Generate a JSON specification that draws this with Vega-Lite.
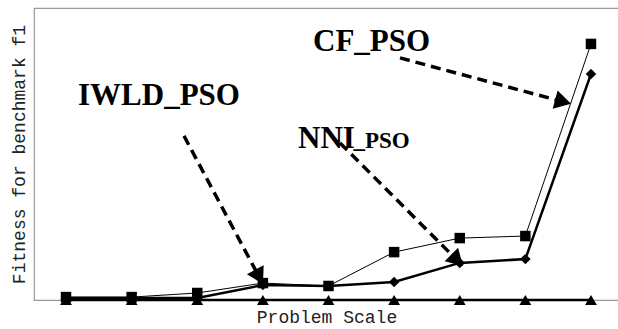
{
  "$schema": "https://vega.github.io/schema/vega-lite/v6.json",
  "autosize": "none",
  "width": 585,
  "height": 292,
  "padding": {"left": 34, "top": 8, "right": 0, "bottom": 29},
  "background": "white",
  "config": {
    "view": {"stroke": "#9a9a9a", "strokeWidth": 1.2},
    "axis": {"domain": false, "ticks": false, "labels": false, "grid": false,
             "titleFont": "Liberation Mono", "titleFontSize": 18, "titleFontWeight": "normal", "titleColor": "#222"}
  },
  "datasets": {
    "series": [
      {"x": 1, "s": "CF_PSO", "v": 1.0}, {"x": 2, "s": "CF_PSO", "v": 1.0}, {"x": 3, "s": "CF_PSO", "v": 2.4},
      {"x": 4, "s": "CF_PSO", "v": 5.8}, {"x": 5, "s": "CF_PSO", "v": 4.8}, {"x": 6, "s": "CF_PSO", "v": 16.4},
      {"x": 7, "s": "CF_PSO", "v": 21.2}, {"x": 8, "s": "CF_PSO", "v": 21.9}, {"x": 9, "s": "CF_PSO", "v": 87.7},
      {"x": 1, "s": "NNI_PSO", "v": 0.7}, {"x": 2, "s": "NNI_PSO", "v": 0.7}, {"x": 3, "s": "NNI_PSO", "v": 0.7},
      {"x": 4, "s": "NNI_PSO", "v": 5.1}, {"x": 5, "s": "NNI_PSO", "v": 4.8}, {"x": 6, "s": "NNI_PSO", "v": 6.2},
      {"x": 7, "s": "NNI_PSO", "v": 12.7}, {"x": 8, "s": "NNI_PSO", "v": 14.0}, {"x": 9, "s": "NNI_PSO", "v": 77.4},
      {"x": 1, "s": "IWLD_PSO", "v": 0}, {"x": 2, "s": "IWLD_PSO", "v": 0}, {"x": 3, "s": "IWLD_PSO", "v": 0},
      {"x": 4, "s": "IWLD_PSO", "v": 0}, {"x": 5, "s": "IWLD_PSO", "v": 0}, {"x": 6, "s": "IWLD_PSO", "v": 0},
      {"x": 7, "s": "IWLD_PSO", "v": 0}, {"x": 8, "s": "IWLD_PSO", "v": 0}, {"x": 9, "s": "IWLD_PSO", "v": 0}
    ],
    "arrows": [
      {"name": "IWLD_PSO", "x": 2.798, "v": 56.2, "x2": 3.943, "v2": 7.9},
      {"name": "NNI_PSO", "x": 5.175, "v": 53.8, "x2": 6.961, "v2": 13.6},
      {"name": "CF_PSO", "x": 6.090, "v": 82.9, "x2": 8.575, "v2": 67.9}
    ],
    "labels": [
      {"t": "IWLD_PSO", "x": 1.183, "v": 66.8, "big": true},
      {"t": "CF_PSO", "x": 4.764, "v": 85.3, "big": true},
      {"t": "NNI", "x": 4.535, "v": 52.1, "big": true},
      {"t": "_PSO", "x": 5.38, "v": 52.1, "big": false}
    ]
  },
  "encoding": {
    "x": {"field": "x", "type": "quantitative", "scale": {"domain": [0.512, 9.427], "nice": false, "zero": false},
          "axis": {"title": "Problem Scale", "titlePadding": 8}},
    "y": {"field": "v", "type": "quantitative", "scale": {"domain": [0, 100], "nice": false},
          "axis": {"title": "Fitness for benchmark f1", "titlePadding": 6}}
  },
  "layer": [
    {"data": {"name": "series"}, "transform": [{"filter": "datum.s === 'IWLD_PSO'"}],
     "mark": {"type": "line", "color": "black", "strokeWidth": 2.5}, "encoding": {}},
    {"data": {"name": "series"}, "transform": [{"filter": "datum.s === 'CF_PSO'"}],
     "mark": {"type": "line", "color": "black", "strokeWidth": 1}, "encoding": {}},
    {"data": {"name": "series"}, "transform": [{"filter": "datum.s === 'NNI_PSO'"}],
     "mark": {"type": "line", "color": "black", "strokeWidth": 2.5}, "encoding": {}},
    {"data": {"name": "series"}, "transform": [{"filter": "datum.s === 'IWLD_PSO'"}],
     "mark": {"type": "point", "shape": "triangle-up", "filled": true, "color": "black", "opacity": 1, "size": 140}, "encoding": {}},
    {"data": {"name": "series"}, "transform": [{"filter": "datum.s === 'CF_PSO'"}],
     "mark": {"type": "point", "shape": "square", "filled": true, "color": "black", "opacity": 1, "size": 110}, "encoding": {}},
    {"data": {"name": "series"}, "transform": [{"filter": "datum.s === 'NNI_PSO'"}],
     "mark": {"type": "point", "shape": "diamond", "filled": true, "color": "black", "opacity": 1, "size": 110}, "encoding": {}},
    {"data": {"name": "arrows"},
     "mark": {"type": "rule", "color": "black", "strokeWidth": 3.5, "strokeDash": [10, 6]},
     "encoding": {"x2": {"field": "x2"}, "y2": {"field": "v2"}}},
    {"data": {"name": "arrows"}, "transform": [{"filter": "datum.name === 'IWLD_PSO'"}],
     "mark": {"type": "point", "shape": "triangle-up", "filled": true, "color": "black", "opacity": 1, "size": 360, "angle": 152},
     "encoding": {"x": {"field": "x2", "type": "quantitative"}, "y": {"field": "v2", "type": "quantitative"}}},
    {"data": {"name": "arrows"}, "transform": [{"filter": "datum.name === 'NNI_PSO'"}],
     "mark": {"type": "point", "shape": "triangle-up", "filled": true, "color": "black", "opacity": 1, "size": 360, "angle": 135},
     "encoding": {"x": {"field": "x2", "type": "quantitative"}, "y": {"field": "v2", "type": "quantitative"}}},
    {"data": {"name": "arrows"}, "transform": [{"filter": "datum.name === 'CF_PSO'"}],
     "mark": {"type": "point", "shape": "triangle-up", "filled": true, "color": "black", "opacity": 1, "size": 360, "angle": 105},
     "encoding": {"x": {"field": "x2", "type": "quantitative"}, "y": {"field": "v2", "type": "quantitative"}}},
    {"data": {"name": "labels"}, "transform": [{"filter": "datum.big"}],
     "mark": {"type": "text", "font": "Liberation Serif", "fontWeight": "bold", "fontSize": 31, "align": "left", "baseline": "alphabetic", "color": "black"},
     "encoding": {"text": {"field": "t"}}},
    {"data": {"name": "labels"}, "transform": [{"filter": "!datum.big"}],
     "mark": {"type": "text", "font": "Liberation Serif", "fontWeight": "bold", "fontSize": 23, "align": "left", "baseline": "alphabetic", "color": "black"},
     "encoding": {"text": {"field": "t"}}}
  ]
}
